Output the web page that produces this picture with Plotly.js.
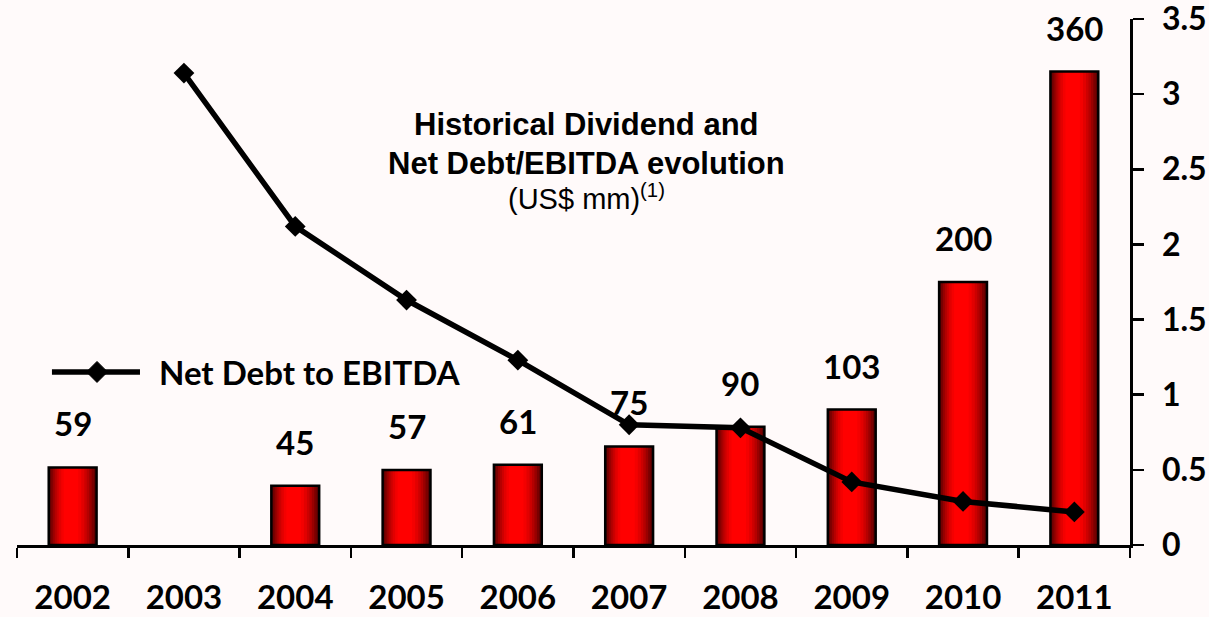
<!DOCTYPE html>
<html>
<head>
<meta charset="utf-8">
<script src="https://cdn.plot.ly/plotly-3.0.1.min.js"></script>
<style>html,body{margin:0;padding:0;background:#FFFAFA;}#chart{width:1209px;height:617px;}</style>
</head>
<body>
<div id="chart"></div>
<script>
// ---- data ----
const years = ['2002','2003','2004','2005','2006','2007','2008','2009','2010','2011'];
const dividends = [59, null, 45, 57, 61, 75, 90, 103, 200, 360];
const netDebtToEbitda = [null, 3.14, 2.12, 1.63, 1.23, 0.80, 0.78, 0.42, 0.29, 0.22];
const rightTickVals = [0, 0.5, 1, 1.5, 2, 2.5, 3, 3.5];

// ---- styles ----
const LAB_FONT = {family: 'Lato, "Open Sans", sans-serif', size: 33, color: '#000', weight: 700};
const AX_FONT = {family: 'Lato, "Open Sans", sans-serif', size: 32, color: '#000', weight: 700};
const BAR_W = 0.43;
const layers = [
  {w: 0.43, c: '#5a0000'},
  {w: 0.39, c: '#7a0000'},
  {w: 0.35, c: '#990000'},
  {w: 0.31, c: '#b50000'},
  {w: 0.27, c: '#cc0000'},
  {w: 0.23, c: '#e20000'},
  {w: 0.18, c: '#f40000'},
  {w: 0.13, c: '#ff0000'}
];

const traces = [];
layers.forEach(l => {
  traces.push({
    type: 'bar', x: years, y: dividends, yaxis: 'y', xaxis: 'x',
    width: l.w, offset: -BAR_W/2 + (BAR_W - l.w)*0.45,
    marker: {color: l.c, line: {width: 0}},
    showlegend: false, hoverinfo: 'skip'
  });
});
traces.push({
  type: 'bar', x: years, y: dividends, yaxis: 'y', xaxis: 'x',
  width: BAR_W, offset: -BAR_W/2,
  marker: {color: 'rgba(0,0,0,0)', line: {width: 2.5, color: '#000'}},
  showlegend: false
});
traces.push({
  type: 'scatter', mode: 'lines+markers', x: years, y: netDebtToEbitda,
  xaxis: 'x', yaxis: 'y2', connectgaps: false, cliponaxis: false,
  line: {color: '#000', width: 5.5},
  marker: {symbol: 'diamond', size: 16, color: '#000'},
  name: 'Net Debt to EBITDA', showlegend: false
});

const annotations = [];
years.forEach((yr, i) => {
  if (dividends[i] != null) {
    annotations.push({
      x: i, y: dividends[i], xref: 'x', yref: 'y', text: String(dividends[i]),
      showarrow: false, xanchor: 'center', yanchor: 'bottom', yshift: 22, font: LAB_FONT
    });
  }
});
const TITLE_FONT = {family: '"Liberation Sans", Arial, sans-serif', size: 31, color: '#000', weight: 700};
annotations.push({xref: 'paper', yref: 'paper', x: 0.512, y: 0.7985, xanchor: 'center', yanchor: 'middle',
  text: 'Historical Dividend and', showarrow: false, font: TITLE_FONT});
annotations.push({xref: 'paper', yref: 'paper', x: 0.512, y: 0.7262, xanchor: 'center', yanchor: 'middle',
  text: 'Net Debt/EBITDA evolution', showarrow: false, font: TITLE_FONT});
annotations.push({xref: 'paper', yref: 'paper', x: 0.512, y: 0.6616, xanchor: 'center', yanchor: 'middle',
  text: '(US$ mm)<sup>(1)</sup>', showarrow: false,
  font: {family: '"Liberation Sans", Arial, sans-serif', size: 29, color: '#000', weight: 400}});
annotations.push({
  xref: 'paper', yref: 'paper', x: 0.1258, y: 0.329, xanchor: 'left', yanchor: 'middle',
  text: 'Net Debt to EBITDA', showarrow: false, font: LAB_FONT
});

const layout = {
  width: 1209, height: 617,
  margin: {l: 17, r: 79, t: 19, b: 72, pad: 0},
  paper_bgcolor: '#FFFAFA', plot_bgcolor: '#FFFAFA',
  barmode: 'overlay', showlegend: false,
  xaxis: {
    type: 'category', categoryorder: 'array', categoryarray: years,
    range: [-0.5, 9.5], showgrid: false, zeroline: false,
    showline: true, linecolor: '#000', linewidth: 2.5,
    tickson: 'boundaries', ticks: 'outside', ticklen: 10, tickwidth: 2.5, tickcolor: '#000',
    tickfont: LAB_FONT, ticklabelstandoff: 22, fixedrange: true
  },
  xaxis2: {
    overlaying: 'x', anchor: 'y', type: 'linear', range: [-0.5, 9.5],
    tickmode: 'linear', tick0: -0.5, dtick: 1,
    ticks: 'inside', ticklen: 11, tickwidth: 2.5, tickcolor: '#000',
    showticklabels: false, showline: false, showgrid: false, zeroline: false
  },
  yaxis: {
    range: [0, 400], showline: false, showticklabels: false, ticks: '',
    showgrid: false, zeroline: false
  },
  yaxis2: {
    overlaying: 'y', side: 'right', anchor: 'x', range: [0, 3.5],
    tickmode: 'array', tickvals: rightTickVals, ticktext: rightTickVals.map(String),
    showline: true, linecolor: '#000', linewidth: 2.5,
    ticks: 'outside', ticklen: 11, tickwidth: 2.5, tickcolor: '#000',
    tickfont: AX_FONT, ticklabelstandoff: 12, ticklabeloverflow: 'allow',
    showgrid: false, zeroline: false
  },
  yaxis3: {
    overlaying: 'y', side: 'right', anchor: 'x', range: [0, 3.5],
    tickmode: 'array', tickvals: rightTickVals,
    ticks: 'inside', ticklen: 11, tickwidth: 2.5, tickcolor: '#000',
    showticklabels: false, showline: false, showgrid: false, zeroline: false
  },
  shapes: [
    {type: 'line', xref: 'paper', yref: 'paper', x0: 0.0314, x1: 0.1105, y0: 0.329, y1: 0.329,
     line: {color: '#000', width: 5.5}},
    {type: 'path', xref: 'paper', yref: 'paper', xsizemode: 'pixel', ysizemode: 'pixel',
     xanchor: 0.0719, yanchor: 0.329, path: 'M0,10.5 L10.5,0 L0,-10.5 L-10.5,0 Z',
     fillcolor: '#000', line: {color: '#000', width: 1}}
  ],
  annotations: annotations
};

Plotly.newPlot('chart', traces, layout, {displayModeBar: false, staticPlot: true});
</script>
</body>
</html>
